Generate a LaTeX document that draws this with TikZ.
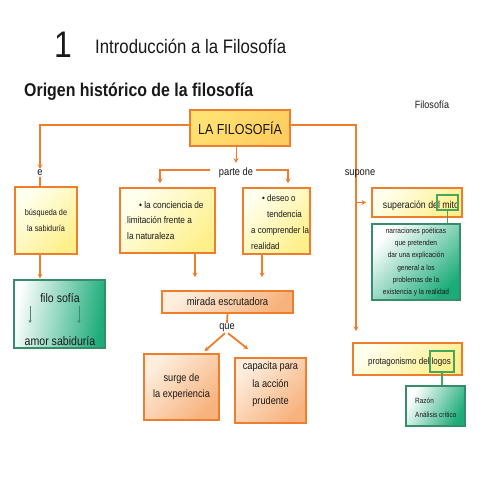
\documentclass[tikz,border=0pt]{standalone}
\usepackage{fontspec}
\setmainfont{Liberation Sans}[FakeStretch=0.86]
\usetikzlibrary{arrows.meta}
\definecolor{orn}{RGB}{238,125,45}
\definecolor{yl}{RGB}{255,255,238}
\definecolor{yd}{RGB}{255,240,140}
\definecolor{fl}{RGB}{255,226,115}
\definecolor{fd}{RGB}{254,205,95}
\definecolor{pl}{RGB}{254,238,222}
\definecolor{pd}{RGB}{247,178,125}
\definecolor{gf}{RGB}{28,172,122}
\definecolor{gbd}{RGB}{55,140,105}
\definecolor{gsm}{RGB}{72,165,92}
\definecolor{txt}{RGB}{25,25,25}
\newcommand{\fsz}[2]{\fontsize{#1}{#2}\selectfont}
\tikzset{
  obox/.style={draw=orn, line width=1.8pt, inner sep=0pt, text=txt},
  ybox/.style={obox, left color=yl, right color=yd, shading angle=45},
  fbox/.style={obox, line width=2.6pt, left color=fl, right color=fd, shading angle=45},
  pbox/.style={obox, left color=pl, right color=pd, shading angle=45},
  gbox/.style={draw=gbd, line width=1.3pt, inner sep=0pt, left color=white, right color=gf, shading angle=60, text=txt},
  smallg/.style={draw=gsm, line width=1.3pt, inner sep=0pt},
  conn/.style={draw=orn, line width=1.8pt, -{Stealth[length=4.5pt,width=5pt]}},
  plain/.style={draw=orn, line width=1.8pt},
  gline/.style={draw=gsm, line width=1.3pt},
  thinarrow/.style={draw=gbd!80!gray, line width=0.7pt, -{Stealth[length=3pt,width=3pt]}},
  lbl/.style={inner sep=1pt, text=txt, font=\fsz{10.8}{12}},
  tx/.style={inner sep=0pt, text=txt},
}
\begin{document}
\begin{tikzpicture}[x=1pt,y=-1pt]
\useasboundingbox[fill=white] (0,0) rectangle (480,480);

% titles
\node[tx, font=\fsz{37}{40}] (num) at (63,45) {1};
\node[tx, anchor=west, font=\fsz{19.5}{22}] (intro) at (95,46) {Introducción a la Filosofía};
\node[tx, anchor=west, font=\fsz{18.5}{22}\bfseries] (origen) at (24,92) {Origen histórico de la filosofía};
\node[tx, font=\fsz{10.5}{12}] (filtag) at (432,105) {Filosofía};

% main box
\node[fbox, minimum width=100pt, minimum height=36pt, font=\fsz{14.5}{16}] (lafil) at (240,128) {LA FILOSOFÍA};

% labels
\node[lbl] (e) at (40,173) {e};
\node[lbl] (parte) at (236,173) {parte de};
\coordinate (spine) at (356,203);

% left branch
\node[ybox, minimum width=62pt, minimum height=67pt, align=center, font=\fsz{8.5}{16}] (busq) at (46,220.5) {búsqueda de\\la sabiduría};
\node[gbox, minimum width=91pt, minimum height=68pt, shading angle=80] (filo) at (59.5,314) {};
\node[tx, font=\fsz{12.3}{14}] (filot) at (60,298) {filo sofía};
\node[tx, font=\fsz{12.3}{14}] (amort) at (60,341) {amor sabiduría};
\coordinate (fa1) at (30,306);
\coordinate (fa1b) at (30,323);
\coordinate (fa2) at (79,306);
\coordinate (fa2b) at (79,323);
\draw[thinarrow] (fa1) -- (fa1b);
\draw[thinarrow] (fa2) -- (fa2b);

% middle branch
\node[ybox, minimum width=95pt, minimum height=65pt] (conc) at (167.5,220.5) {};
\node[tx, align=left, anchor=north west, font=\fsz{9.6}{15.5}] (conct) at (127,201) {\hspace*{12pt}• la conciencia de\\limitación frente a\\la naturaleza};
\node[ybox, minimum width=67pt, minimum height=66pt] (deseo) at (276.5,221) {};
\node[tx, align=left, anchor=north west, font=\fsz{9.3}{15.7}] (deseot) at (251,195) {\hspace*{11pt}• deseo o\\\hspace*{16pt}tendencia\\a comprender la\\realidad};
\node[pbox, minimum width=131pt, minimum height=22pt, font=\fsz{11}{13}] (mirada) at (227.5,302) {mirada escrutadora};
\node[lbl] (que) at (227,328) {que};
\node[pbox, minimum width=75pt, minimum height=66pt, align=center, font=\fsz{10.7}{16}] (surge) at (181.5,387) {surge de\\la experiencia};
\node[pbox, minimum width=71pt, minimum height=65pt] (capac) at (270.5,390.5) {};
\node[tx, align=center, font=\fsz{10.7}{17.5}] (capact) at (270.5,384.5) {capacita para\\la acción\\prudente};

% right branch
\node[ybox, minimum width=90pt, minimum height=29pt] (mito) at (417,202.5) {};
\node[tx, font=\fsz{10.2}{12}] (mitot) at (421,206) {superación del mito};
\node[smallg, minimum width=21pt, minimum height=15pt] (mitor) at (447.5,202.5) {};
\node[gbox, minimum width=88pt, minimum height=76pt, align=center, font=\fsz{7.6}{12.2}, shading angle=45] (narr) at (416,262) {narraciones poéticas\\que pretenden\\dar una explicación\\general a los\\problemas de la\\existencia y la realidad};
\node[ybox, minimum width=109pt, minimum height=32pt] (protag) at (407.5,359) {};
\node[tx, font=\fsz{9.3}{11}] (protagt) at (409.5,362) {protagonismo del logos};
\node[smallg, minimum width=24pt, minimum height=21pt] (logosr) at (442,361.5) {};
\node[gbox, minimum width=59pt, minimum height=40pt, shading angle=60] (razon) at (435.5,406) {};
\node[tx, align=left, anchor=west, font=\fsz{7.5}{14}] (razont) at (415,408) {Razón\\Análisis crítico};

% connectors
\draw[conn] ([yshift=3pt]lafil.west) -| (e.north);
\draw[plain] (e.south) -- (e.south |- busq.north);
\draw[conn, shorten >=1pt] (e.south |- busq.south) -- (e.south |- filo.north);

\draw[conn, line width=1pt, shorten >=4pt] (lafil.south -| parte.north) -- (parte.north);
\draw[conn, shorten >=4pt] ([xshift=-8pt,yshift=3pt]parte.west) -| ([xshift=-7.5pt]conc.north);
\draw[conn, shorten >=4pt] ([xshift=2pt,yshift=3pt]parte.east) -| ([xshift=11.5pt]deseo.north);
\draw[conn, shorten >=13pt] ([xshift=27.5pt]conc.south) -- ([xshift=27.5pt]conc.south |- mirada.north);
\draw[conn, shorten >=13pt] ([xshift=-14.5pt]deseo.south) -- ([xshift=-14.5pt]deseo.south |- mirada.north);
\draw[plain] (mirada.south) -- (que.north);
\draw[conn] ([xshift=-2pt]que.south) -- ([xshift=23pt,yshift=2pt]surge.north);
\draw[conn] ([xshift=1pt]que.south) -- ([xshift=-22.5pt,yshift=8pt]capac.north);

\draw[conn] ([yshift=3pt]lafil.east) -| ([yshift=11pt]protag.north -| spine);
\draw[conn, shorten >=5pt] (spine |- mito.west) -- (mito.west);
\node[lbl] (supone) at (360,174) {supone};

\draw[gline] (mitor.south) -- (mitor.south |- narr.north);
\draw[gline] (logosr.south) -- (logosr.south |- razon.north);
\end{tikzpicture}
\end{document}
